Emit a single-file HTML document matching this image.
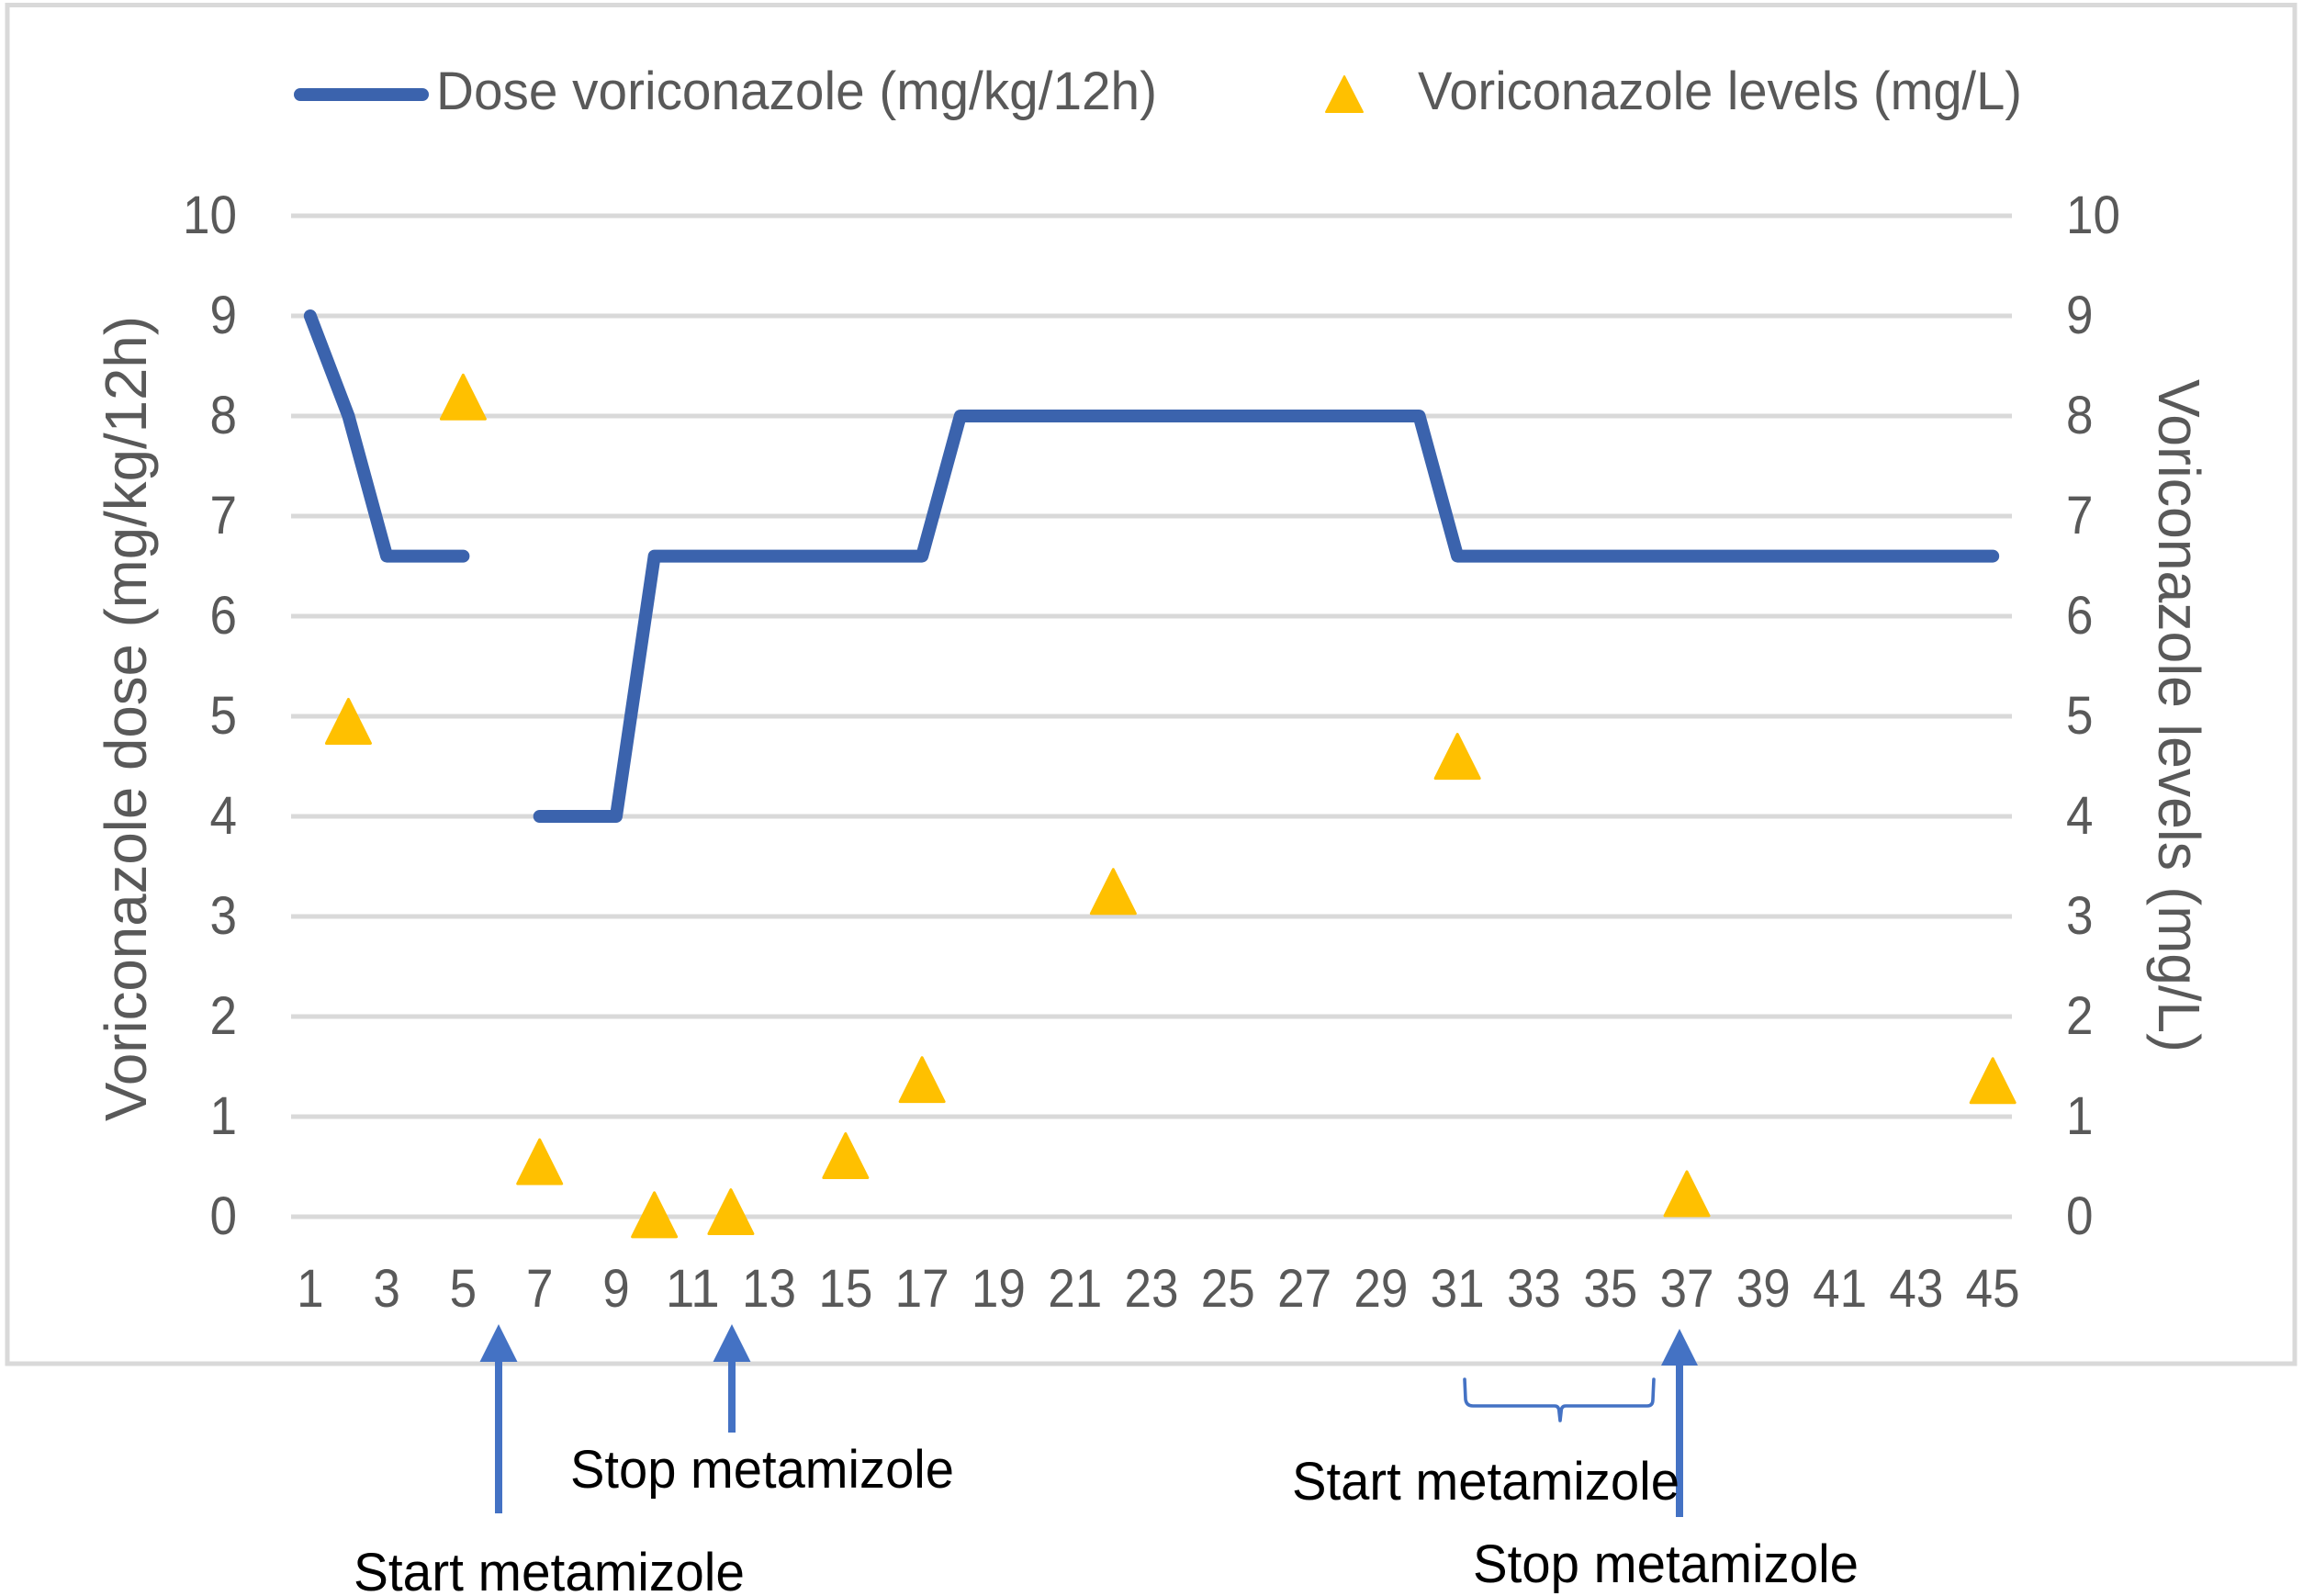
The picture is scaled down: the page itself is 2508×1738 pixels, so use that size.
<!DOCTYPE html>
<html lang="en">
<head>
<meta charset="utf-8">
<title>Voriconazole dose and levels</title>
<style>
html,body{margin:0;padding:0;background:#fff;width:2508px;height:1738px;overflow:hidden}
svg{display:block}
text{font-family:"Liberation Sans",sans-serif}
</style>
</head>
<body>
<svg id="chart" xmlns="http://www.w3.org/2000/svg" width="2508" height="1738" viewBox="0 0 2508 1738">
  <rect x="8" y="5.5" width="2491" height="1479.5" fill="#fff" stroke="#d9d9d9" stroke-width="5"/>
  <g id="grid"></g>
  <g id="yLeft"></g>
  <g id="yRight"></g>
  <g id="xAxis"></g>
  <g id="doseLayer" fill="none" stroke="#3b63ad" stroke-width="14" stroke-linecap="round" stroke-linejoin="round"></g>
  <g id="levelLayer" fill="#ffc000" stroke="#ffc000" stroke-width="3" stroke-linejoin="round"></g>

  <g>
    <line x1="327" y1="103" x2="460" y2="103" stroke="#3b63ad" stroke-width="14" stroke-linecap="round"/>
    <text x="475" y="119" font-size="58" fill="#595959" textLength="785" lengthAdjust="spacingAndGlyphs">Dose voriconazole (mg/kg/12h)</text>
    <polygon points="1464,83 1484,122 1444,122" fill="#ffc000" stroke="#ffc000" stroke-width="2" stroke-linejoin="round"/>
    <text x="1544" y="119" font-size="58" fill="#595959" textLength="658" lengthAdjust="spacingAndGlyphs">Voriconazole levels (mg/L)</text>
  </g>

  <text transform="translate(159,1221) rotate(-90)" font-size="64" fill="#595959" textLength="877" lengthAdjust="spacingAndGlyphs">Voriconazole dose (mg/kg/12h)</text>
  <text transform="translate(2351,413) rotate(90)" font-size="64" fill="#595959" textLength="733" lengthAdjust="spacingAndGlyphs">Voriconazole levels (mg/L)</text>

  <g fill="#4472c4">
    <g>
      <polygon points="543,1442 563.5,1483 522.5,1483"/>
      <rect x="539" y="1483" width="8" height="165"/>
    </g>
    <g>
      <polygon points="797,1442 817.5,1483 776.5,1483"/>
      <rect x="793" y="1483" width="8" height="77"/>
    </g>
    <path d="M1595,1502 L1596,1524 Q1597,1531 1604,1531 L1693,1531 Q1698,1531 1698,1538 L1699,1547 L1700,1538 Q1700,1531 1705,1531 L1794,1531 Q1800,1531 1800,1524 L1801,1502" fill="none" stroke="#4472c4" stroke-width="3.6" stroke-linecap="round" stroke-linejoin="round"/>
    <g>
      <polygon points="1829,1447 1849,1487 1809,1487"/>
      <rect x="1825" y="1487" width="8" height="165"/>
    </g>
  </g>

  <g font-size="58" fill="#000">
    <text x="621" y="1620" textLength="418" lengthAdjust="spacingAndGlyphs">Stop metamizole</text>
    <text x="385" y="1732" textLength="426" lengthAdjust="spacingAndGlyphs">Start metamizole</text>
    <text x="1407" y="1633" textLength="422" lengthAdjust="spacingAndGlyphs">Start metamizole</text>
    <text x="1604" y="1723" textLength="420" lengthAdjust="spacingAndGlyphs">Stop metamizole</text>
  </g>
</svg>

<script>
// Chart data
const days = [1,2,3,4,5,6,7,8,9,10,11,12,13,14,15,16,17,18,19,20,21,22,23,24,25,26,27,28,29,30,31,32,33,34,35,36,37,38,39,40,41,42,43,44,45];
const doseValues = [9,8,6.6,6.6,6.6,null,4,4,4,6.6,6.6,6.6,6.6,6.6,6.6,6.6,6.6,8,8,8,8,8,8,8,8,8,8,8,8,8,6.6,6.6,6.6,6.6,6.6,6.6,6.6,6.6,6.6,6.6,6.6,6.6,6.6,6.6,6.6];
const levelDays = [2,5,7,10,12,15,17,22,31,37,45];
const levelValues = [4.95,8.19,0.55,0.02,0.05,0.61,1.37,3.25,4.6,0.23,1.36];
const yTicks = [0,1,2,3,4,5,6,7,8,9,10];
const xTickLabels = [1,3,5,7,9,11,13,15,17,19,21,23,25,27,29,31,33,35,37,39,41,43,45];

// Axis functions
const plotLeft = 317, plotRight = 2191, plotBottom = 1325, plotTop = 235;
const yMax = 10;
function xScale(day) { return plotLeft + (day - 0.5) * (plotRight - plotLeft) / days.length; }
function yScale(v) { return plotBottom - v * (plotBottom - plotTop) / yMax; }

const NS = 'http://www.w3.org/2000/svg';
function make(tag, parentId) {
  const el = document.createElementNS(NS, tag);
  document.getElementById(parentId).appendChild(el);
  return el;
}
function tickText(el, x, y, anchor, label) {
  el.setAttribute('x', x);
  el.setAttribute('y', y);
  el.setAttribute('text-anchor', anchor);
  el.setAttribute('font-size', '58');
  el.setAttribute('fill', '#595959');
  el.setAttribute('textLength', String(label).length * 29.5);
  el.setAttribute('lengthAdjust', 'spacingAndGlyphs');
  el.textContent = label;
}

// Gridlines and y ticks
yTicks.forEach(function (t) {
  const line = make('line', 'grid');
  
  
  line.setAttribute('x1', plotLeft);
  line.setAttribute('x2', plotRight);
  line.setAttribute('y1', yScale(t));
  line.setAttribute('y2', yScale(t));
  line.setAttribute('stroke', '#d9d9d9');
  line.setAttribute('stroke-width', '5');

  const left = make('text', 'yLeft');
  
  
  tickText(left, 258, yScale(t) + 19, 'end', t);

  const right = make('text', 'yRight');
  
  
  tickText(right, 2250, yScale(t) + 19, 'start', t);
});

// X ticks
xTickLabels.forEach(function (d) {
  const label = make('text', 'xAxis');
  
  
  tickText(label, xScale(d), 1423, 'middle', d);
});

// Dose line, split at gaps
let segment = [];
function flushSegment() {
  if (segment.length > 1) {
    const path = make('polyline', 'doseLayer');
    
    
    path.setAttribute('points', segment.join(' '));
  }
  segment = [];
}
days.forEach(function (d, i) {
  if (doseValues[i] === null) { flushSegment(); return; }
  segment.push(xScale(d) + ',' + yScale(doseValues[i]));
});
flushSegment();

// Level markers
levelDays.forEach(function (d, i) {
  const cx = xScale(d), cy = yScale(levelValues[i]);
  const tri = make('polygon', 'levelLayer');
  
  
  tri.setAttribute('points', cx + ',' + (cy - 24) + ' ' + (cx + 24) + ',' + (cy + 24) + ' ' + (cx - 24) + ',' + (cy + 24));
});
</script>
</body>
</html>
